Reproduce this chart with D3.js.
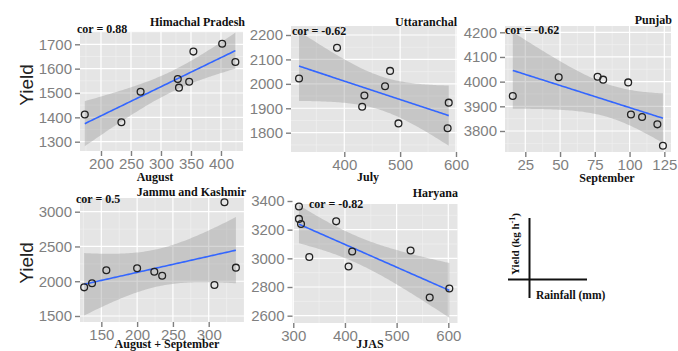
<!DOCTYPE html>
<html>
<head>
<meta charset="utf-8">
<script src="https://cdn.jsdelivr.net/npm/d3@7"></script>
<style>
html,body{margin:0;padding:0;background:#fff;}
svg{display:block;}
</style>
</head>
<body>
<svg id="chart" width="678" height="351"></svg>
<script>
// ---------- DATA ----------
const panelNames = ["Himachal Pradesh", "Uttaranchal", "Punjab", "Jammu and Kashmir", "Haryana"];
const xTitles = ["August", "July", "September", "August + September", "JJAS"];
const corLabels = ["cor = 0.88", "cor = -0.62", "cor = -0.62", "cor = 0.5", "cor = -0.82"];

const hpRain  = [173, 234, 266, 328, 330, 347, 354, 402, 424];
const hpYield = [1412, 1380, 1505, 1557, 1522, 1546, 1670, 1702, 1627];
const utRain  = [319, 387, 436, 432, 473, 482, 497, 587, 585];
const utYield = [2022, 2148, 1952, 1906, 1990, 2053, 1838, 1923, 1818];
const pbRain  = [16, 49, 77, 81, 99, 101, 109, 120, 124];
const pbYield = [3942, 4018, 4020, 4008, 3997, 3867, 3857, 3827, 3740];
const jkRain  = [126, 137, 157, 200, 224, 235, 308, 322, 338];
const jkYield = [1912, 1970, 2157, 2186, 2137, 2079, 1945, 3135, 2195];
const hrRain  = [311, 311, 315, 331, 383, 414, 407, 527, 564, 602];
const hrYield = [3362, 3275, 3240, 3009, 3258, 3048, 2943, 3055, 2727, 2790];

const hpXTicks = [200, 250, 300, 350, 400];
const hpYTicks = [1300, 1400, 1500, 1600, 1700];
const utXTicks = [400, 500, 600];
const utYTicks = [1800, 1900, 2000, 2100, 2200];
const pbXTicks = [25, 50, 75, 100, 125];
const pbYTicks = [3800, 3900, 4000, 4100, 4200];
const jkXTicks = [150, 200, 250, 300];
const jkYTicks = [1500, 2000, 2500, 3000];
const hrXTicks = [300, 400, 500, 600];
const hrYTicks = [2600, 2800, 3000, 3200, 3400];

// t quantiles (0.975) by degrees of freedom
const tQuant = {7: 2.3646, 8: 2.3060};

// ---------- LAYOUT ----------
const layout = [
  {x: hpRain, y: hpYield, xt: hpXTicks, yt: hpYTicks, box: [80, 243, 32, 151], xd: [165, 436.7], yd: [1261.8, 1750.5],
   title: [245, 26], cor: [77, 33], xtitle: [155, 181], ylab: [33, 85]},
  {x: utRain, y: utYield, xt: utXTicks, yt: utYTicks, box: [291, 457, 26, 152], xd: [304.6, 601.8], yd: [1721, 2236.8],
   title: [457, 26], cor: [292, 35], xtitle: [368, 181], ylab: null},
  {x: pbRain, y: pbYield, xt: pbXTicks, yt: pbYTicks, box: [505, 671, 26, 152], xd: [10.4, 129.8], yd: [3714.9, 4225.5],
   title: [672, 24], cor: [505, 34], xtitle: [607, 182], ylab: null},
  {x: jkRain, y: jkYield, xt: jkXTicks, yt: jkYTicks, box: [80, 245, 198, 322], xd: [120.2, 350.7], yd: [1413.7, 3197],
   title: [246, 196], cor: [76, 203], xtitle: [167, 348], ylab: [33, 263]},
  {x: hrRain, y: hrYield, xt: hrXTicks, yt: hrYTicks, box: [292.5, 457.5, 204, 323], xd: [298.5, 617.8], yd: [2549, 3379],
   title: [458, 197], cor: [309, 208], xtitle: [370, 348], ylab: null}
];

const svg = d3.select("#chart");
const defs = svg.append("defs");
const SERIF = "'Liberation Serif','Times New Roman',serif";
const SANS = "'Liberation Sans',Arial,sans-serif";

function minorOf(ticks, domain) {
  const step = ticks[1] - ticks[0];
  const out = [];
  for (let v = ticks[0] - step / 2; v <= ticks[ticks.length - 1] + step; v += step) {
    if (v > domain[0] && v < domain[1]) out.push(v);
  }
  return out;
}
function majorExt(ticks, domain) {
  const step = ticks[1] - ticks[0];
  const out = [];
  for (let v = ticks[0] - step; v <= ticks[ticks.length - 1] + step; v += step) {
    if (v >= domain[0] && v <= domain[1]) out.push(v);
  }
  return out;
}

layout.forEach((p, i) => {
  const [x0, x1, y0, y1] = p.box;
  const xs = d3.scaleLinear().domain(p.xd).range([x0, x1]);
  const ys = d3.scaleLinear().domain(p.yd).range([y1, y0]);
  const g = svg.append("g");

  // panel bg
  g.append("rect").attr("x", x0).attr("y", y0).attr("width", x1 - x0).attr("height", y1 - y0).attr("fill", "#E5E5E5");

  // minor grid
  minorOf(p.xt, p.xd).forEach(v => g.append("line").attr("x1", xs(v)).attr("x2", xs(v)).attr("y1", y0).attr("y2", y1)
    .attr("stroke", "#F2F2F2").attr("stroke-width", 0.6));
  minorOf(p.yt, p.yd).forEach(v => g.append("line").attr("y1", ys(v)).attr("y2", ys(v)).attr("x1", x0).attr("x2", x1)
    .attr("stroke", "#F2F2F2").attr("stroke-width", 0.6));
  // major grid
  majorExt(p.xt, p.xd).forEach(v => g.append("line").attr("x1", xs(v)).attr("x2", xs(v)).attr("y1", y0).attr("y2", y1)
    .attr("stroke", "#FFFFFF").attr("stroke-width", 1.2));
  majorExt(p.yt, p.yd).forEach(v => g.append("line").attr("y1", ys(v)).attr("y2", ys(v)).attr("x1", x0).attr("x2", x1)
    .attr("stroke", "#FFFFFF").attr("stroke-width", 1.2));

  // regression + confidence band
  const n = p.x.length;
  const mx = d3.mean(p.x), my = d3.mean(p.y);
  let sxx = 0, sxy = 0;
  for (let k = 0; k < n; k++) { sxx += (p.x[k] - mx) ** 2; sxy += (p.x[k] - mx) * (p.y[k] - my); }
  const b = sxy / sxx, a = my - b * mx;
  let sse = 0;
  for (let k = 0; k < n; k++) sse += (p.y[k] - (a + b * p.x[k])) ** 2;
  const s = Math.sqrt(sse / (n - 2));
  const t = tQuant[n - 2];
  const xmin = d3.min(p.x), xmax = d3.max(p.x);
  const grid = d3.range(80).map(k => xmin + (xmax - xmin) * k / 79);
  const fit = grid.map(xv => {
    const yh = a + b * xv;
    const se = s * Math.sqrt(1 / n + (xv - mx) ** 2 / sxx);
    return {x: xv, y: yh, lo: yh - t * se, hi: yh + t * se};
  });

  const cid = "clip" + i;
  defs.append("clipPath").attr("id", cid).append("rect").attr("x", x0).attr("y", y0).attr("width", x1 - x0).attr("height", y1 - y0);
  const cg = g.append("g").attr("clip-path", `url(#${cid})`);
  cg.append("path").datum(fit)
    .attr("d", d3.area().x(d => xs(d.x)).y0(d => ys(d.lo)).y1(d => ys(d.hi)))
    .attr("fill", "#999999").attr("fill-opacity", 0.4);
  cg.append("path").datum(fit)
    .attr("d", d3.line().x(d => xs(d.x)).y(d => ys(d.y)))
    .attr("fill", "none").attr("stroke", "#3366FF").attr("stroke-width", 1.6);

  // points
  g.selectAll("circle.pt").data(p.x.map((xv, k) => [xv, p.y[k]])).enter().append("circle")
    .attr("cx", d => xs(d[0])).attr("cy", d => ys(d[1])).attr("r", 3.4)
    .attr("fill", "none").attr("stroke", "#222").attr("stroke-width", 1.3);

  // axes
  const fmt = d3.format("d");
  const ax = g.append("g").attr("transform", `translate(0,${y1})`)
    .call(d3.axisBottom(xs).tickValues(p.xt).tickFormat(fmt).tickSize(5).tickPadding(2).tickSizeOuter(0));
  const ay = g.append("g").attr("transform", `translate(${x0},0)`)
    .call(d3.axisLeft(ys).tickValues(p.yt).tickFormat(fmt).tickSize(5).tickPadding(3).tickSizeOuter(0));
  [ax, ay].forEach(a2 => {
    a2.select(".domain").remove();
    a2.selectAll(".tick line").attr("stroke", "#7F7F7F").attr("stroke-width", 1.4);
    a2.selectAll(".tick text").attr("fill", "#7F7F7F").style("font-family", SANS).style("font-size", "15px");
  });

  // texts
  g.append("text").attr("x", p.title[0]).attr("y", p.title[1]).attr("text-anchor", "end")
    .style("font-family", SERIF).style("font-weight", "bold").style("font-size", "12px").attr("fill", "#111")
    .text(panelNames[i]);
  g.append("text").attr("x", p.cor[0]).attr("y", p.cor[1])
    .style("font-family", SERIF).style("font-weight", "bold").style("font-size", "12px").attr("fill", "#111")
    .text(corLabels[i]);
  g.append("text").attr("x", p.xtitle[0]).attr("y", p.xtitle[1]).attr("text-anchor", "middle")
    .style("font-family", SERIF).style("font-weight", "bold").style("font-size", "12px").attr("fill", "#111")
    .text(xTitles[i]);
  if (p.ylab) {
    g.append("text").attr("transform", `translate(${p.ylab[0]},${p.ylab[1]}) rotate(-90)`).attr("text-anchor", "middle")
      .style("font-family", SANS).style("font-size", "19px").attr("fill", "#222").text("Yield");
  }
});

// ---------- axis key ----------
const key = svg.append("g");
key.append("line").attr("x1", 529.5).attr("x2", 529.5).attr("y1", 218).attr("y2", 298).attr("stroke", "#111").attr("stroke-width", 2);
key.append("line").attr("x1", 508).attr("x2", 587).attr("y1", 279.5).attr("y2", 279.5).attr("stroke", "#111").attr("stroke-width", 2);
const yk = key.append("text").attr("transform", "translate(519,244) rotate(-90)").attr("text-anchor", "middle")
  .style("font-family", SERIF).style("font-weight", "bold").style("font-size", "11px").attr("fill", "#111");
yk.append("tspan").text("Yield (kg h");
yk.append("tspan").attr("dy", -4).style("font-size", "8px").text("-1");
yk.append("tspan").attr("dy", 4).text(")");
key.append("text").attr("x", 536).attr("y", 299)
  .style("font-family", SERIF).style("font-weight", "bold").style("font-size", "11.5px").attr("fill", "#111")
  .text("Rainfall (mm)");
</script>
</body>
</html>
